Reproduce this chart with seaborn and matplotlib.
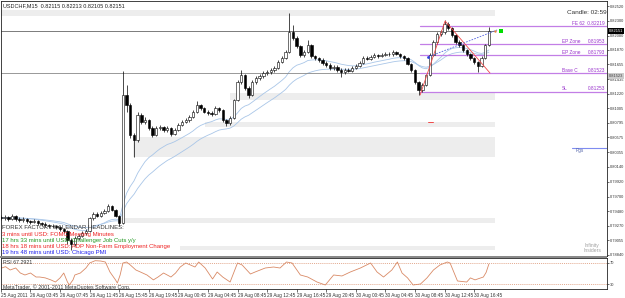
import numpy as np
import pandas as pd
import matplotlib
matplotlib.use("Agg")
import matplotlib.pyplot as plt
import seaborn as sns
from matplotlib.patches import Rectangle

sns.set_theme(style="white")
FONT = ['Liberation Sans Narrow', 'Liberation Sans', 'DejaVu Sans']
plt.rcParams['font.family'] = FONT

# ---------------- data ----------------
first_open = 0.79390
close = [0.79382, 0.79397, 0.79368, 0.79412, 0.79368, 0.79353, 0.79368, 0.79338, 0.79323, 0.79338,
         0.79308, 0.79294, 0.79279, 0.79264, 0.79260, 0.79249, 0.79220, 0.79190, 0.79057, 0.78998,
         0.79087, 0.79116, 0.79160, 0.79190, 0.79382, 0.79442, 0.79412, 0.79456, 0.79486, 0.79560,
         0.79501, 0.79412, 0.79308, 0.81203, 0.81055, 0.80611, 0.80537, 0.80907, 0.80803, 0.80833,
         0.80714, 0.80611, 0.80714, 0.80729, 0.80685, 0.80714, 0.80626, 0.80685, 0.80759, 0.80803,
         0.80833, 0.80877, 0.80951, 0.81055, 0.81010, 0.80951, 0.80936, 0.80922, 0.81010, 0.80981,
         0.80833, 0.80788, 0.80862, 0.81129, 0.81395, 0.81499, 0.81306, 0.81203, 0.81395, 0.81454,
         0.81484, 0.81528, 0.81543, 0.81573, 0.81602, 0.81691, 0.81750, 0.81839, 0.82135, 0.82046,
         0.81928, 0.81795, 0.81839, 0.81943, 0.81780, 0.81750, 0.81721, 0.81676, 0.81647, 0.81602,
         0.81617, 0.81573, 0.81543, 0.81573, 0.81565, 0.81602, 0.81632, 0.81676, 0.81750, 0.81742,
         0.81765, 0.81795, 0.81780, 0.81795, 0.81810, 0.81805, 0.81839, 0.81810, 0.81780, 0.81750,
         0.81662, 0.81573, 0.81395, 0.81277, 0.81351, 0.81499, 0.81795, 0.81987, 0.82106, 0.82135,
         0.82254, 0.82194, 0.82091, 0.81987, 0.81943, 0.81869, 0.81810, 0.81750, 0.81691, 0.81632,
         0.81750, 0.81943, 0.82151]
high = [0.79420, 0.79425, 0.79415, 0.79442, 0.79430, 0.79390, 0.79395, 0.79385, 0.79360, 0.79365,
        0.79350, 0.79330, 0.79320, 0.79300, 0.79295, 0.79285, 0.79270, 0.79240, 0.79205, 0.79080,
        0.79110, 0.79140, 0.79185, 0.79215, 0.79400, 0.79470, 0.79465, 0.79480, 0.79515, 0.79590,
        0.79575, 0.79520, 0.79430, 0.81558, 0.81351, 0.81080, 0.80640, 0.80951, 0.80930, 0.80870,
        0.80850, 0.80740, 0.80745, 0.80765, 0.80750, 0.80740, 0.80735, 0.80710, 0.80785, 0.80830,
        0.80860, 0.80905, 0.80980, 0.81114, 0.81075, 0.81030, 0.80975, 0.80960, 0.81040, 0.81030,
        0.81000, 0.80855, 0.80890, 0.81150, 0.81420, 0.81573, 0.81520, 0.81330, 0.81420, 0.81480,
        0.81510, 0.81555, 0.81570, 0.81600, 0.81630, 0.81715, 0.81780, 0.81870, 0.82416, 0.82239,
        0.82070, 0.81950, 0.81865, 0.82017, 0.81960, 0.81800, 0.81770, 0.81745, 0.81700, 0.81670,
        0.81645, 0.81640, 0.81600, 0.81600, 0.81600, 0.81630, 0.81660, 0.81700, 0.81775, 0.81775,
        0.81790, 0.81820, 0.81815, 0.81825, 0.81840, 0.81835, 0.81865, 0.81860, 0.81830, 0.81800,
        0.81770, 0.81680, 0.81590, 0.81410, 0.81380, 0.81520, 0.81820, 0.82010, 0.82130, 0.82170,
        0.82313, 0.82280, 0.82215, 0.82110, 0.82010, 0.81965, 0.81890, 0.81830, 0.81770, 0.81710,
        0.81775, 0.81965, 0.82213]
low = [0.79355, 0.79360, 0.79340, 0.79350, 0.79345, 0.79325, 0.79330, 0.79310, 0.79300, 0.79305,
       0.79285, 0.79270, 0.79255, 0.79240, 0.79235, 0.79225, 0.79195, 0.79160, 0.78998, 0.78909,
       0.78970, 0.79060, 0.79095, 0.79130, 0.79175, 0.79360, 0.79390, 0.79395, 0.79435, 0.79470,
       0.79480, 0.79390, 0.79264, 0.79290, 0.80951, 0.80560, 0.80285, 0.80500, 0.80770, 0.80780,
       0.80690, 0.80580, 0.80590, 0.80690, 0.80660, 0.80660, 0.80600, 0.80605, 0.80665, 0.80740,
       0.80785, 0.80810, 0.80860, 0.80930, 0.80985, 0.80930, 0.80910, 0.80895, 0.80900, 0.80955,
       0.80810, 0.80744, 0.80765, 0.80845, 0.81110, 0.81370, 0.81280, 0.81158, 0.81185, 0.81370,
       0.81430, 0.81460, 0.81500, 0.81520, 0.81550, 0.81585, 0.81670, 0.81730, 0.81820, 0.82010,
       0.81900, 0.81770, 0.81770, 0.81820, 0.81755, 0.81720, 0.81695, 0.81650, 0.81620, 0.81575,
       0.81580, 0.81545, 0.81469, 0.81520, 0.81540, 0.81545, 0.81585, 0.81615, 0.81660, 0.81720,
       0.81720, 0.81745, 0.81755, 0.81760, 0.81775, 0.81780, 0.81785, 0.81790, 0.81755, 0.81725,
       0.81640, 0.81550, 0.81370, 0.81203, 0.81250, 0.81330, 0.81480, 0.81775, 0.81965, 0.82080,
       0.82110, 0.82170, 0.82065, 0.81960, 0.81915, 0.81845, 0.81785, 0.81720, 0.81665, 0.81543,
       0.81610, 0.81730, 0.81925]

rsi_bar = [0, 2.5, 5, 8, 10.5, 13, 16, 19, 21, 24, 27, 29.5, 32, 34, 36, 37, 39, 40, 43, 46, 48,
           51, 54, 56.5, 59, 62, 63, 64.5, 66, 68, 70, 73, 75.5, 79, 82.5, 85, 88, 92, 94.5, 97,
           100, 102.5, 105, 107, 110.5, 114.5, 117, 120, 124, 128, 130.5, 135, 137.5, 143, 147.5,
           151, 154.5, 157.5, 162, 166, 171, 175.5, 180, 184.5, 189, 194.5, 200, 203.5, 207, 211.5,
           214.5, 217, 220, 223, 227, 230.5, 234, 237.5, 241.5, 243, 247, 252, 254, 256.5, 261,
           262.5, 264]
rsi_val = [59.5, 62.4, 56.4, 60.0, 50.9, 47.3, 50.9, 43.6, 43.6, 42.0, 38.4, 34.5, 42.0, 50.9,
           34.5, 29.1, 38.4, 47.3, 50.9, 60.0, 69.1, 73.3, 72.7, 70.9, 52.7, 38.4, 32.7, 47.3, 69.1,
           70.9, 65.5, 56.4, 52.7, 47.3, 38.4, 43.6, 50.9, 43.6, 50.9, 61.8, 69.1, 65.5, 61.8, 70.9,
           60.0, 40.0, 52.7, 43.6, 34.5, 69.1, 65.5, 49.1, 52.7, 60.0, 61.8, 60.0, 70.9, 69.1, 47.3,
           43.6, 34.5, 29.1, 47.3, 45.5, 52.7, 60.0, 69.1, 52.7, 43.6, 56.4, 70.9, 50.9, 42.0, 29.1,
           30.9, 42.0, 56.4, 65.5, 70.9, 69.1, 36.4, 34.5, 42.0, 38.4, 43.6, 52.0, 67.3]
rsi_levels = [70, 30]

x_labels = ["25 Aug 2011", "26 Aug 03:45", "26 Aug 07:45", "26 Aug 11:45", "26 Aug 15:45",
            "26 Aug 19:45", "29 Aug 00:45", "29 Aug 04:45", "29 Aug 08:45", "29 Aug 12:45",
            "29 Aug 16:45", "29 Aug 20:45", "30 Aug 00:45", "30 Aug 04:45", "30 Aug 08:45",
            "30 Aug 12:45", "30 Aug 16:45"]
price_ticks = [0.82520, 0.82300, 0.82080, 0.81870, 0.81655, 0.81435, 0.81220, 0.81005, 0.80795,
               0.80575, 0.80355, 0.80140, 0.79920, 0.79700, 0.79480, 0.79270, 0.79055, 0.78840]

level_names = ["FE 62", "EP Zone", "EP Zone", "Base C", "SL"]
level_prices = [0.82219, 0.81953, 0.81793, 0.81523, 0.81253]
level_start = 226.8

zone_lo = [0.82372, 0.81129, 0.80729, 0.80285, 0.79308, 0.78909]
zone_hi = [0.82461, 0.81232, 0.80803, 0.80581, 0.79382, 0.78968]
zone_start = [-1, 124, 110.6, 71.7, 64.6, 97]
zone_end = 267.3

zigzag_bar = [226.8, 240.3, 264.6]
zigzag_price = [0.81203, 0.82298, 0.81528]
proj_bar = [231.1, 268.4]
proj_price = [0.81765, 0.82165]
bid = 0.82151
pgs_price = 0.80423

headlines = ["FOREX FACTORY CALENDAR HEADLINES:",
             "3 mins until USD: FOMC Meeting Minutes",
             "17 hrs 33 mins until USD: Challenger Job Cuts y/y",
             "18 hrs 18 mins until USD: ADP Non-Farm Employment Change",
             "19 hrs 48 mins until USD: Chicago PMI"]
headline_colors = ["#333333", "#EE2222", "#229922", "#EE2222", "#2222EE"]

# ---------------- layout helpers ----------------
W, H = 625, 298
fig = plt.figure(figsize=(W / 100, H / 100), dpi=100)
fig.patch.set_facecolor("white")

def fx(px):
    return px / W

def fy(py):
    return 1 - py / H

AX_R = 607
ax = fig.add_axes([fx(0.5), fy(256), fx(AX_R - 0.5), 255 / H])
ax2 = fig.add_axes([fx(0.5), fy(289), fx(AX_R - 0.5), 31 / H])

XL = (-0.22, (AX_R - 0.4) / 1.85)
YL = (0.7882, 0.82594)

def axfrac(px):
    return (px - 0.5) / (AX_R - 0.5)

# ---------------- main panel ----------------
c = np.array(close)
o = np.array([first_open] + close[:-1])
hi = np.array(high)
lo = np.array(low)
x = np.arange(len(c)) * 2.0

for zl, zh, zs in zip(zone_lo, zone_hi, zone_start):
    ax.add_patch(Rectangle((zs, zl), zone_end - zs, zh - zl, facecolor="#EDEDED",
                           edgecolor="none", zorder=0))

s = pd.Series(c)
ema_fast = s.ewm(span=16, adjust=False).mean()
ema_slow = s.ewm(span=26, adjust=False).mean()
sns.lineplot(x=x, y=ema_fast.values, ax=ax, color="#A9C6E8", lw=0.6, zorder=1)
sns.lineplot(x=x, y=ema_slow.values, ax=ax, color="#A9C6E8", lw=0.6, zorder=1)

ax.vlines(x, lo, hi, color="black", lw=0.5, zorder=2)
bull = c >= o
body = np.maximum(np.abs(c - o), 0.00003)
ax.bar(x[bull], body[bull], bottom=o[bull], width=1.3, color="white",
       edgecolor="black", linewidth=0.4, zorder=3)
ax.bar(x[~bull], body[~bull], bottom=c[~bull], width=1.3, color="black",
       edgecolor="black", linewidth=0.4, zorder=3)

# horizontal lines
ax.plot([XL[0], 267], [bid, bid], color="#666666", lw=0.6, zorder=1.5)
ax.plot([XL[0], level_start], [level_prices[3], level_prices[3]], color="#888888", lw=0.6,
        zorder=1.5)
for name, p in zip(level_names, level_prices):
    ax.plot([level_start, XL[1]], [p, p], color="#C27EE6", lw=0.9, zorder=1.6)
ytr = ax.get_yaxis_transform()
for name, p in zip(level_names, level_prices):
    if name == "FE 62":
        ax.text(axfrac(605), p + 0.00004, f"{name}  {p:.5f}", transform=ytr,
                ha="right", va="bottom", fontsize=3.4, color="#9933CC")
    else:
        ax.text(axfrac(562), p + 0.00004, name, transform=ytr,
                ha="left", va="bottom", fontsize=3.4, color="#9933CC")
        ax.text(axfrac(605), p + 0.00004, f"{p:.5f}", transform=ytr,
                ha="right", va="bottom", fontsize=3.4, color="#9933CC")

# pgs line
ax.plot([309, XL[1]], [pgs_price, pgs_price], color="#7F8CF0", lw=0.8)
ax.text(311, pgs_price - 0.0001, "Pgs", fontsize=3.4, color="#5566AA", va="top", ha="left")

# zigzag and projection
ax.plot(zigzag_bar, zigzag_price, color="#F04848", lw=0.6, zorder=4)
ax.plot(proj_bar, proj_price, color="#5060E0", lw=0.6, ls=(0, (2, 1.5)), zorder=4)
ax.scatter([proj_bar[0]], [proj_price[0]], s=4, color="#3040E0", zorder=5, linewidths=0)
ax.scatter([proj_bar[1] + 2.2], [bid], s=10, marker="s", color="#00DD00", zorder=5, linewidths=0)
ax.scatter([proj_bar[1] - 1], [bid], s=3, color="#E08040", zorder=5, linewidths=0)
ax.plot([231, 234], [0.80803, 0.80803], color="#F04848", lw=0.7)

ax.set_xlim(*XL)
ax.set_ylim(*YL)
ax.set_xticks([])
ax.set_yticks(price_ticks)
ax.set_yticklabels([f"{p:.5f}" for p in price_ticks])
ax.yaxis.tick_right()
ax.tick_params(axis="y", right=True, left=False, length=1.5, width=0.5, pad=0.6,
               labelsize=2.9, colors="#333333")
for sp in ax.spines.values():
    sp.set_linewidth(0.6)
    sp.set_color("#222222")

# texts
ax.text(axfrac(3), 1 - 4.5 / 255, "USDCHF,M15  0.82115 0.82213 0.82105 0.82151",
        transform=ax.transAxes, fontsize=4.0, va="center", ha="left", color="#222222")
ax.text(axfrac(567), 1 - 12 / 255, "Candle: 02:59", transform=ax.transAxes,
        fontsize=4.6, va="center", ha="left", color="#333333")
for i, (t, col) in enumerate(zip(headlines, headline_colors)):
    ax.text(axfrac(2), 1 - (228 + 6.2 * i - 1) / 255, t, transform=ax.transAxes,
            fontsize=4.3, va="center", ha="left", color=col, zorder=6)
ax.text(axfrac(592), 1 - 247 / 255, "Infinity\nInsiders", transform=ax.transAxes,
        fontsize=3.6, va="center", ha="center", color="#A0A0A0", linespacing=0.9)

# price boxes on axis
fig.text(fx(608.5), fy(31), f"{bid:.5f}", fontsize=2.9, color="white", va="center", ha="left",
         bbox=dict(facecolor="black", edgecolor="none", pad=0.5))
fig.text(fx(608.5), fy(76), f"{level_prices[3]:.5f}", fontsize=2.9, color="#444444",
         va="center", ha="left", bbox=dict(facecolor="#CCCCCC", edgecolor="none", pad=0.5))

# separator
fig.patches.append(Rectangle((fx(0), fy(258)), fx(AX_R), 2.2 / H, transform=fig.transFigure,
                             facecolor="#8A8A8A", edgecolor="none"))

# ---------------- RSI panel ----------------
sns.lineplot(x=rsi_bar, y=rsi_val, ax=ax2, color="#D98A66", lw=0.6, sort=False)
for lv in rsi_levels:
    ax2.axhline(lv, color="#D98A66", lw=0.5, ls=(0, (1.5, 1.5)))
ax2.set_xlim(*XL)
ax2.set_ylim(21.8, 78.2)
ax2.set_yticks(rsi_levels)
ax2.set_yticklabels([str(v) for v in rsi_levels])
ax2.yaxis.tick_right()
ax2.tick_params(axis="y", right=True, left=False, length=1.5, width=0.5, pad=0.6,
                labelsize=2.9, colors="#333333")
ax2.set_xticks(np.arange(len(x_labels)) * 16)
ax2.set_xticklabels(x_labels, ha="left")
ax2.tick_params(axis="x", bottom=True, length=2, width=0.5, pad=1.0, labelsize=3.4,
                colors="#333333")
ax2.set_xlabel("")
ax2.set_ylabel("")
for sp in ax2.spines.values():
    sp.set_linewidth(0.6)
    sp.set_color("#222222")
ax2.text(axfrac(3), 0.86, "RSI 67.2921", transform=ax2.transAxes, fontsize=3.8,
         va="center", ha="left", color="#333333")
ax2.text(axfrac(3), 0.07, "MetaTrader, \u00a9 2001-2011 MetaQuotes Software Corp.",
         transform=ax2.transAxes, fontsize=3.8, va="center", ha="left", color="#333333")

fig.savefig("out.png", dpi=100, facecolor="white")
